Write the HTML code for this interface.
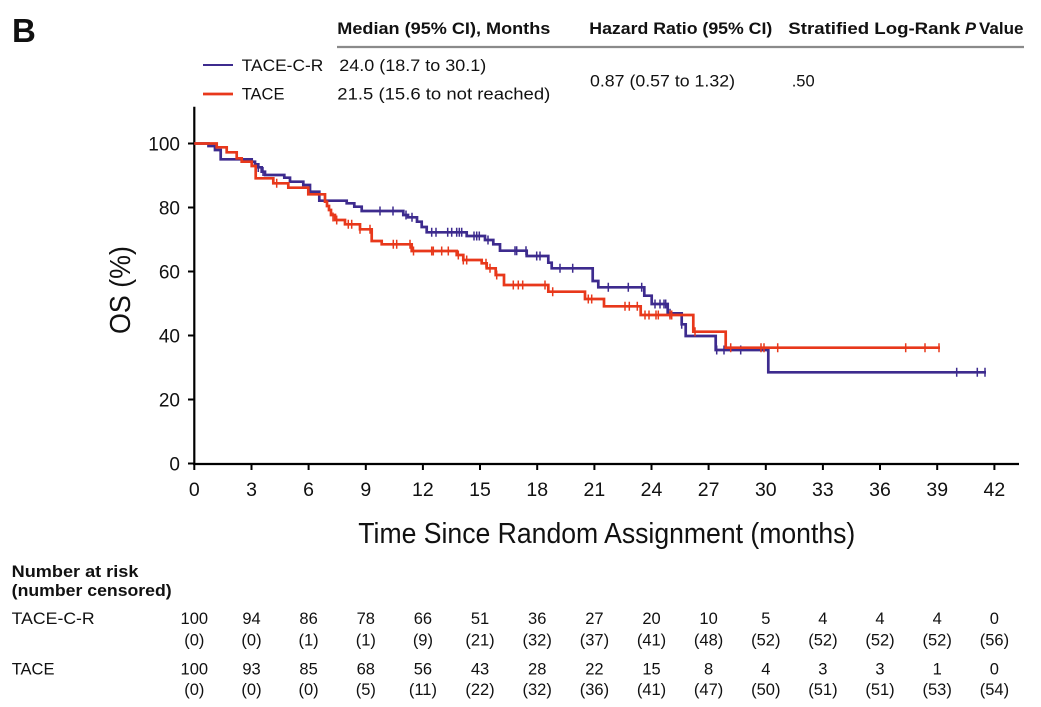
<!DOCTYPE html>
<html><head><meta charset="utf-8"><style>
html,body{margin:0;padding:0;background:#fff;}
svg{display:block;}
text{font-family:"Liberation Sans",Arial,sans-serif;fill:#111;}
</style></head><body>
<svg width="1041" height="707" viewBox="0 0 1041 707" xmlns="http://www.w3.org/2000/svg">
<rect width="1041" height="707" fill="#fff"/>

<!-- Panel label -->
<text x="12" y="42" font-size="33" font-weight="bold">B</text>

<!-- Header -->
<text x="337.3" y="34" font-size="16.5" font-weight="bold" textLength="213" lengthAdjust="spacingAndGlyphs">Median (95% CI), Months</text>
<text x="589.3" y="34" font-size="16.5" font-weight="bold" textLength="183" lengthAdjust="spacingAndGlyphs">Hazard Ratio (95% CI)</text>
<text x="788.3" y="34" font-size="16.5" font-weight="bold" textLength="172" lengthAdjust="spacingAndGlyphs">Stratified Log-Rank</text>
<text x="965" y="34" font-size="16.5" font-weight="bold" font-style="italic">P</text>
<text x="979" y="34" font-size="16.5" font-weight="bold" textLength="44.5" lengthAdjust="spacingAndGlyphs">Value</text>
<line x1="337" y1="47" x2="1024" y2="47" stroke="#8a8a8a" stroke-width="2.3"/>

<!-- Legend -->
<line x1="203" y1="65" x2="233" y2="65" stroke="#3d2b8e" stroke-width="2"/>
<line x1="203" y1="94" x2="233" y2="94" stroke="#e8381b" stroke-width="2.8"/>
<text x="241.7" y="71" font-size="16.5" textLength="81.6" lengthAdjust="spacingAndGlyphs">TACE-C-R</text>
<text x="241.7" y="99.5" font-size="16.5">TACE</text>
<text x="339.3" y="71" font-size="16.5" textLength="147" lengthAdjust="spacingAndGlyphs">24.0 (18.7 to 30.1)</text>
<text x="337.3" y="99.5" font-size="16.5" textLength="213" lengthAdjust="spacingAndGlyphs">21.5 (15.6 to not reached)</text>
<text x="590" y="86.5" font-size="16.5" textLength="145" lengthAdjust="spacingAndGlyphs">0.87 (0.57 to 1.32)</text>
<text x="791.7" y="86.5" font-size="16.5">.50</text>

<!-- Axes -->
<line x1="194.3" y1="106.7" x2="194.3" y2="465" stroke="#000" stroke-width="2.2"/>
<line x1="193.2" y1="464" x2="1019" y2="464" stroke="#000" stroke-width="2.2"/>

<!-- Y ticks -->
<g stroke="#000" stroke-width="2">
<line x1="188" y1="143.5" x2="194" y2="143.5"/>
<line x1="188" y1="207.5" x2="194" y2="207.5"/>
<line x1="188" y1="271.5" x2="194" y2="271.5"/>
<line x1="188" y1="335.5" x2="194" y2="335.5"/>
<line x1="188" y1="399.5" x2="194" y2="399.5"/>
<line x1="188" y1="463.5" x2="194" y2="463.5"/>
</g>
<g font-size="19" text-anchor="end">
<text x="180" y="150.5">100</text>
<text x="180" y="214.5">80</text>
<text x="180" y="278.5">60</text>
<text x="180" y="342.5">40</text>
<text x="180" y="406.5">20</text>
<text x="180" y="470.5">0</text>
</g>

<!-- X ticks -->
<g stroke="#000" stroke-width="2">
<line x1="194.3" y1="464" x2="194.3" y2="470"/>
<line x1="251.5" y1="464" x2="251.5" y2="470"/>
<line x1="308.6" y1="464" x2="308.6" y2="470"/>
<line x1="365.8" y1="464" x2="365.8" y2="470"/>
<line x1="422.9" y1="464" x2="422.9" y2="470"/>
<line x1="480" y1="464" x2="480" y2="470"/>
<line x1="537.2" y1="464" x2="537.2" y2="470"/>
<line x1="594.4" y1="464" x2="594.4" y2="470"/>
<line x1="651.5" y1="464" x2="651.5" y2="470"/>
<line x1="708.6" y1="464" x2="708.6" y2="470"/>
<line x1="765.8" y1="464" x2="765.8" y2="470"/>
<line x1="822.9" y1="464" x2="822.9" y2="470"/>
<line x1="880" y1="464" x2="880" y2="470"/>
<line x1="937.2" y1="464" x2="937.2" y2="470"/>
<line x1="994.4" y1="464" x2="994.4" y2="470"/>
</g>
<g font-size="19.5" text-anchor="middle">
<text x="194.3" y="496">0</text>
<text x="251.5" y="496">3</text>
<text x="308.6" y="496">6</text>
<text x="365.8" y="496">9</text>
<text x="422.9" y="496">12</text>
<text x="480" y="496">15</text>
<text x="537.2" y="496">18</text>
<text x="594.4" y="496">21</text>
<text x="651.5" y="496">24</text>
<text x="708.6" y="496">27</text>
<text x="765.8" y="496">30</text>
<text x="822.9" y="496">33</text>
<text x="880" y="496">36</text>
<text x="937.2" y="496">39</text>
<text x="994.4" y="496">42</text>
</g>

<!-- Axis titles -->
<text x="358.3" y="543" font-size="29" textLength="497" lengthAdjust="spacingAndGlyphs">Time Since Random Assignment (months)</text>
<text transform="translate(130,290) rotate(-90)" x="0" y="0" font-size="29" text-anchor="middle" textLength="88" lengthAdjust="spacingAndGlyphs">OS (%)</text>

<!-- Blue curve -->
<path fill="none" stroke="#3d2b8e" stroke-width="2.7" d="M194.3,143.5 H208.5 V146 H215 V150 H220.7 V159.3 H251.7 V161.7 H255 V164.3 H258.3 V167.3 H261.7 V171.7 H265 V175 H284.3 V177.7 H290 V181.7 H303.3 V185 H310 V191.7 H319.3 V200.7 H346.7 V203.3 H354.3 V206.7 H361.7 V211 H403.3 V215 H408 V217.3 H417 V221.7 H421.7 V227 H426.7 V232.3 H466.7 V236 H485 V240 H493.3 V244.3 H500 V250.7 H526.7 V256 H548.3 V262.7 H551.7 V268.3 H592.7 V281 H598.3 V287.3 H644.3 V295.7 H651.7 V304 H667.7 V313.3 H681.7 V324.3 H685.7 V336 H715.7 V350 H768.3 V372.3 H986"/>
<g stroke="#3d2b8e" stroke-width="1.5">
<path d="M258.3,163v9 M263,167v9 M380,206.5v9 M393,206.5v9 M406,210.5v9 M412,212.8v9 M431.7,227.8v9 M436,227.8v9 M447.7,227.8v9 M451.7,227.8v9 M456.7,227.8v9 M459.3,227.8v9 M461.7,227.8v9 M474,231.5v9 M476.7,231.5v9 M479.3,231.5v9 M488,235.5v9 M515,246.2v9 M516.7,246.2v9 M526,246.2v9 M536.7,251.5v9 M540,251.5v9 M560,263.8v9 M572.7,263.8v9 M608.3,282.8v9 M628.3,282.8v9 M641.7,282.8v9 M655,299.5v9 M660,299.5v9 M664,299.5v9 M665.7,299.5v9 M670,308.8v9 M681.7,319.8v9 M716.7,345.5v9 M724,345.5v9 M740.7,345.5v9 M956.7,367.8v9 M977.3,367.8v9 M985,367.8v9"/>
</g>

<!-- Red curve -->
<path fill="none" stroke="#e8381b" stroke-width="2.7" d="M194.3,143.5 H216.7 V147.3 H226.7 V152.3 H236.7 V158.3 H241.7 V161.7 H251.7 V166 H255.7 V178.3 H273.3 V183.3 H288.3 V187.7 H308.3 V194.3 H325 V201.7 H327 V206 H329 V210 H331 V215 H335 V220 H345 V224.3 H360 V229.3 H371.7 V241 H381.7 V244.3 H411.7 V251 H456.7 V255 H463.3 V260 H481.7 V263.3 H486.7 V268.3 H495.7 V275 H504 V285 H548.3 V291.7 H585 V299 H604 V306.3 H640.7 V315 H693.3 V331.7 H725.7 V347.7 H940"/>
<g stroke="#e8381b" stroke-width="1.5">
<path d="M276.7,178.8v9 M333,212.5v9 M336.7,215.5v9 M348.3,219.8v9 M351.7,219.8v9 M360,224.8v9 M370,224.8v9 M393.3,239.8v9 M396.7,239.8v9 M410,239.8v9 M413.5,246.5v9 M431.7,246.5v9 M433.3,246.5v9 M441.7,246.5v9 M448.3,246.5v9 M458.3,250.5v9 M463.3,255.5v9 M466.7,255.5v9 M486,258.8v9 M490,263.8v9 M496.7,270.5v9 M513.3,280.5v9 M518.3,280.5v9 M522.7,280.5v9 M545,280.5v9 M552.7,287.2v9 M588.3,294.5v9 M591.7,294.5v9 M625,301.8v9 M629.3,301.8v9 M637.3,301.8v9 M645,310.5v9 M649,310.5v9 M656,310.5v9 M658.3,310.5v9 M670,310.5v9 M671.7,310.5v9 M695,327.2v9 M730.7,343.2v9 M761,343.2v9 M764,343.2v9 M777.7,343.2v9 M905.7,343.2v9 M925,343.2v9 M939,343.2v9"/>
</g>

<!-- Risk table -->
<text x="11.7" y="577" font-size="16.5" font-weight="bold" textLength="126.7" lengthAdjust="spacingAndGlyphs">Number at risk</text>
<text x="11.7" y="596" font-size="16.5" font-weight="bold" textLength="160" lengthAdjust="spacingAndGlyphs">(number censored)</text>
<text x="11.7" y="624" font-size="16.5" textLength="83" lengthAdjust="spacingAndGlyphs">TACE-C-R</text>
<text x="11.7" y="674.3" font-size="16.5">TACE</text>

<g font-size="16.5" text-anchor="middle">
<text x="194.3" y="624">100</text><text x="251.5" y="624">94</text><text x="308.6" y="624">86</text><text x="365.8" y="624">78</text><text x="422.9" y="624">66</text><text x="480" y="624">51</text><text x="537.2" y="624">36</text><text x="594.4" y="624">27</text><text x="651.5" y="624">20</text><text x="708.6" y="624">10</text><text x="765.8" y="624">5</text><text x="822.9" y="624">4</text><text x="880" y="624">4</text><text x="937.2" y="624">4</text><text x="994.4" y="624">0</text>

<text x="194.3" y="645.5">(0)</text><text x="251.5" y="645.5">(0)</text><text x="308.6" y="645.5">(1)</text><text x="365.8" y="645.5">(1)</text><text x="422.9" y="645.5">(9)</text><text x="480" y="645.5">(21)</text><text x="537.2" y="645.5">(32)</text><text x="594.4" y="645.5">(37)</text><text x="651.5" y="645.5">(41)</text><text x="708.6" y="645.5">(48)</text><text x="765.8" y="645.5">(52)</text><text x="822.9" y="645.5">(52)</text><text x="880" y="645.5">(52)</text><text x="937.2" y="645.5">(52)</text><text x="994.4" y="645.5">(56)</text>

<text x="194.3" y="674.3">100</text><text x="251.5" y="674.3">93</text><text x="308.6" y="674.3">85</text><text x="365.8" y="674.3">68</text><text x="422.9" y="674.3">56</text><text x="480" y="674.3">43</text><text x="537.2" y="674.3">28</text><text x="594.4" y="674.3">22</text><text x="651.5" y="674.3">15</text><text x="708.6" y="674.3">8</text><text x="765.8" y="674.3">4</text><text x="822.9" y="674.3">3</text><text x="880" y="674.3">3</text><text x="937.2" y="674.3">1</text><text x="994.4" y="674.3">0</text>

<text x="194.3" y="695">(0)</text><text x="251.5" y="695">(0)</text><text x="308.6" y="695">(0)</text><text x="365.8" y="695">(5)</text><text x="422.9" y="695">(11)</text><text x="480" y="695">(22)</text><text x="537.2" y="695">(32)</text><text x="594.4" y="695">(36)</text><text x="651.5" y="695">(41)</text><text x="708.6" y="695">(47)</text><text x="765.8" y="695">(50)</text><text x="822.9" y="695">(51)</text><text x="880" y="695">(51)</text><text x="937.2" y="695">(53)</text><text x="994.4" y="695">(54)</text>
</g>
</svg>
</body></html>
